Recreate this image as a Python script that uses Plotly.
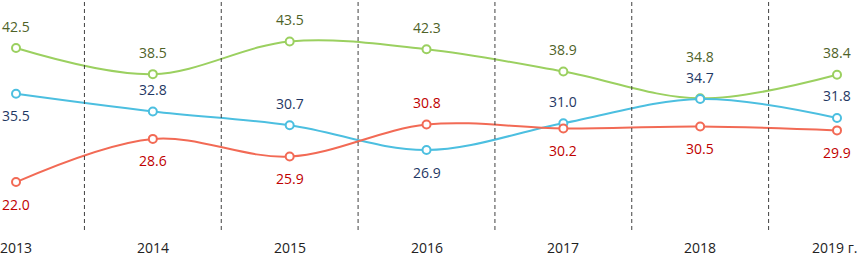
import plotly.graph_objects as go

years = [2013, 2014, 2015, 2016, 2017, 2018, 2019]
tick_labels = ["2013", "2014", "2015", "2016", "2017", "2018", "2019 г."]
green_vals = [42.5, 38.5, 43.5, 42.3, 38.9, 34.8, 38.4]
blue_vals = [35.5, 32.8, 30.7, 26.9, 31.0, 34.7, 31.8]
red_vals = [22.0, 28.6, 25.9, 30.8, 30.2, 30.5, 29.9]

# label offsets in pixels (positive = above the point)
green_shift = [22, 22, 22, 22, 22, 42, 22]
blue_shift = [-22, 22, 22, -22, 22, 22, 22]
red_shift = [-22, -22, -22, 22, -22, -22, -22]

series = [
    (green_vals, green_shift, "#9bd060", "#4f6228"),
    (blue_vals, blue_shift, "#4cbfe0", "#1f3864"),
    (red_vals, red_shift, "#f26a55", "#c00000"),
]

fig = go.Figure()
annotations = []
for vals, shifts, lc, tc in series:
    fig.add_trace(go.Scatter(
        x=years, y=vals, mode="lines+markers",
        line=dict(color=lc, width=2, shape="spline", smoothing=1.0),
        marker=dict(symbol="circle", size=8, color="white", line=dict(color=lc, width=2)),
        cliponaxis=False, hoverinfo="skip", showlegend=False,
    ))
    for x, v, s in zip(years, vals, shifts):
        annotations.append(dict(
            x=x, y=v, xref="x", yref="y", text=f"{v:.1f}", showarrow=False,
            yshift=s,
            font=dict(family="Open Sans", size=14, color=tc),
        ))

for i, (x, lab) in enumerate(zip(years, tick_labels)):
    last = i == len(years) - 1
    annotations.append(dict(
        x=x, y=0, xref="x", yref="paper", text=lab, showarrow=False,
        yanchor="top", yshift=-6,
        xanchor="right" if last else "center", xshift=22 if last else 0,
        font=dict(family="Open Sans", size=14, color="#222222"),
    ))

shapes = []
for i in range(len(years) - 1):
    xm = (years[i] + years[i + 1]) / 2
    shapes.append(dict(type="line", xref="x", yref="paper", x0=xm, x1=xm, y0=0, y1=1,
                       line=dict(color="#404040", width=1, dash="4px,3px")))

fig.update_layout(
    width=860, height=256,
    margin=dict(l=0, r=0, t=0, b=26),
    paper_bgcolor="white", plot_bgcolor="white",
    hovermode=False,
    xaxis=dict(range=[2012.883, 2019.168], showticklabels=False,
               showgrid=False, zeroline=False, showline=False, ticks=""),
    yaxis=dict(range=[14.67, 49.84], visible=False),
    shapes=shapes, annotations=annotations,
)

fig.write_html("out.html", config={"displayModeBar": False},
               post_script="document.body.style.margin='0';")
